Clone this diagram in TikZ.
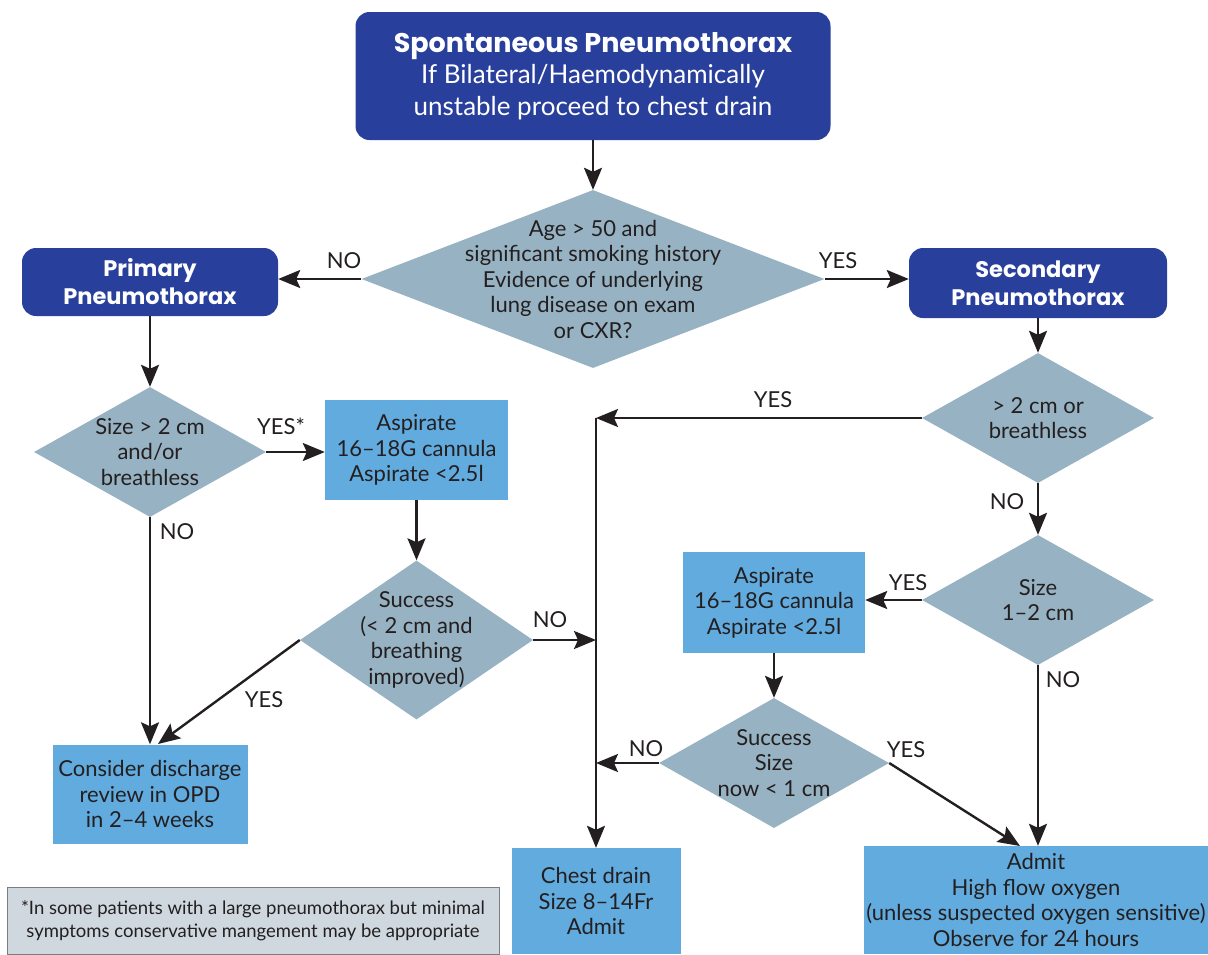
\documentclass[tikz,border=0pt]{standalone}
\usepackage{fontspec}
\setmainfont{Lato}
\newfontfamily\headfont{Poppins}
\usetikzlibrary{arrows.meta,shapes.geometric}
\definecolor{NavyBox}{RGB}{41,63,156}
\definecolor{SlateFill}{RGB}{151,179,195}
\definecolor{SkyBox}{RGB}{98,171,222}
\definecolor{NoteFill}{RGB}{207,216,223}
\definecolor{NoteLine}{RGB}{125,125,125}
\definecolor{Ink}{RGB}{35,31,32}

\begin{document}
\begin{tikzpicture}[x=1pt,y=-1pt,>={Stealth[length=22pt,width=18pt,inset=4pt]},
  every node/.style={font=\fontsize{22}{25.5}\selectfont,text=Ink,align=center},
  headbox/.style={rectangle,rounded corners=14pt,fill=NavyBox,text=white,inner sep=0pt},
  decision/.style={diamond,fill=SlateFill,inner sep=0pt},
  actbox/.style={rectangle,fill=SkyBox,inner sep=0pt},
  lbl/.style={inner sep=0pt},
  flow/.style={->,line width=2.4pt,draw=Ink}]
  \useasboundingbox (0,0) rectangle (1208,954);

  % boxes
  \node[headbox,minimum width=475pt,minimum height=128pt,font=\fontsize{26}{31.5}\selectfont] (spont) at (593,76)
    {{\headfont\bfseries\fontsize{27}{31.5}\selectfont Spontaneous Pneumothorax}\\If Bilateral/Haemodynamically\\unstable proceed to chest drain};
  \node[headbox,minimum width=256pt,minimum height=68pt,font=\headfont\bfseries\fontsize{22.5}{28}\selectfont] (prim) at (150,282) {Primary\\Pneumothorax};
  \node[headbox,minimum width=258pt,minimum height=70pt,font=\headfont\bfseries\fontsize{22.5}{28}\selectfont] (sec) at (1038,283) {Secondary\\Pneumothorax};
  \node[actbox,minimum width=183pt,minimum height=100pt] (asp1) at (416.5,450) {Aspirate\\16--18G cannula\\Aspirate <2.5l};
  \node[actbox,minimum width=182pt,minimum height=101pt] (asp2) at (774,602.5) {Aspirate\\16--18G cannula\\Aspirate <2.5l};
  \node[actbox,minimum width=195pt,minimum height=99pt] (disc) at (150,794) {Consider discharge\\review in OPD\\in 2--4 weeks};
  \node[actbox,minimum width=169pt,minimum height=106pt] (drain) at (596,901) {Chest drain\\Size 8--14Fr\\Admit};
  \node[actbox,minimum width=344pt,minimum height=108pt] (admit) at (1036,900) {Admit\\High flow oxygen\\(unless suspected oxygen sensitive)\\Observe for 24 hours};
  \node[draw=NoteLine,line width=1pt,fill=NoteFill,minimum width=492pt,minimum height=67pt,inner sep=0pt,font=\fontsize{18.5}{23}\selectfont] (note) at (253,920.5)
    {*In some patients with a large pneumothorax but minimal\\symptoms conservative mangement may be appropriate};

  % decisions
  \node[decision,minimum width=463pt,minimum height=178pt] (age) at (593,279) {};
  \node (agetxt) at (age) {Age > 50 and\\significant smoking history\\Evidence of underlying\\lung disease on exam\\or CXR?};
  \node[decision,minimum width=232pt,minimum height=130pt] (big1) at (150,452) {};
  \node (big1txt) at (big1) {Size > 2 cm\\and/or\\breathless};
  \node[decision,minimum width=233pt,minimum height=159pt] (ok1) at (416.5,640) {};
  \node (ok1txt) at (ok1) {Success\\(< 2 cm and\\breathing\\improved)};
  \node[decision,minimum width=232pt,minimum height=130pt] (big2) at (1038,418) {};
  \node (big2txt) at (big2) {> 2 cm or\\breathless};
  \node[decision,minimum width=232pt,minimum height=130pt] (mid2) at (1038,600) {};
  \node (mid2txt) at (mid2) {Size\\1--2 cm};
  \node[decision,minimum width=230pt,minimum height=130pt] (ok2) at (774,763) {};
  \node (ok2txt) at (ok2) {Success\\Size\\now < 1 cm};

  % connectors
  \coordinate (split) at (big2.west -| drain.north);
  \coordinate (discin) at (158,744);
  \coordinate (admitin) at (1020,846);
  \draw[flow] (spont.south) -- (spont.south |- age.north);
  \draw[flow] (age.west) -- (age.west -| prim.east);
  \draw[flow] (age.east) -- (age.east -| sec.west);
  \draw[flow] (prim.south) -- (big1.north);
  \draw[flow] (big1.east) -- (big1.east -| asp1.west);
  \draw[flow] (asp1.south) -- (ok1.north);
  \draw[flow] (big1.south) -- (disc.north);
  \draw[flow] (ok1.west) -- (discin);
  \draw[flow] (ok1.east) -- (ok1.east -| drain.north);
  \draw[flow] (sec.south) -- (big2.north);
  \draw[flow] (big2.west) -- (split);
  \draw[flow] (split) -- (drain.north);
  \draw[flow] (big2.south) -- (mid2.north);
  \draw[flow] (mid2.west) -- (mid2.west -| asp2.east);
  \draw[flow] (asp2.south) -- (ok2.north);
  \draw[flow] (ok2.west) -- (ok2.west -| drain.north);
  \draw[flow] (ok2.east) -- (admitin);
  \draw[flow] (mid2.south) -- (mid2.south |- admit.north);

  % labels
  \node[lbl] (lno0) at (344,261) {NO};
  \node[lbl] (lyes0) at (838,261) {YES};
  \node[lbl] (lyes1) at (281,426) {YES*};
  \node[lbl] (lno1) at (177,532) {NO};
  \node[lbl] (lyes2) at (264,700) {YES};
  \node[lbl] (lno2) at (550,620) {NO};
  \node[lbl] (lyes3) at (773,400) {YES};
  \node[lbl] (lno3) at (1007,502) {NO};
  \node[lbl] (lyes4) at (908,583) {YES};
  \node[lbl] (lno4) at (1063,680) {NO};
  \node[lbl] (lno5) at (646,749) {NO};
  \node[lbl] (lyes5) at (906,750) {YES};
\end{tikzpicture}
\end{document}
